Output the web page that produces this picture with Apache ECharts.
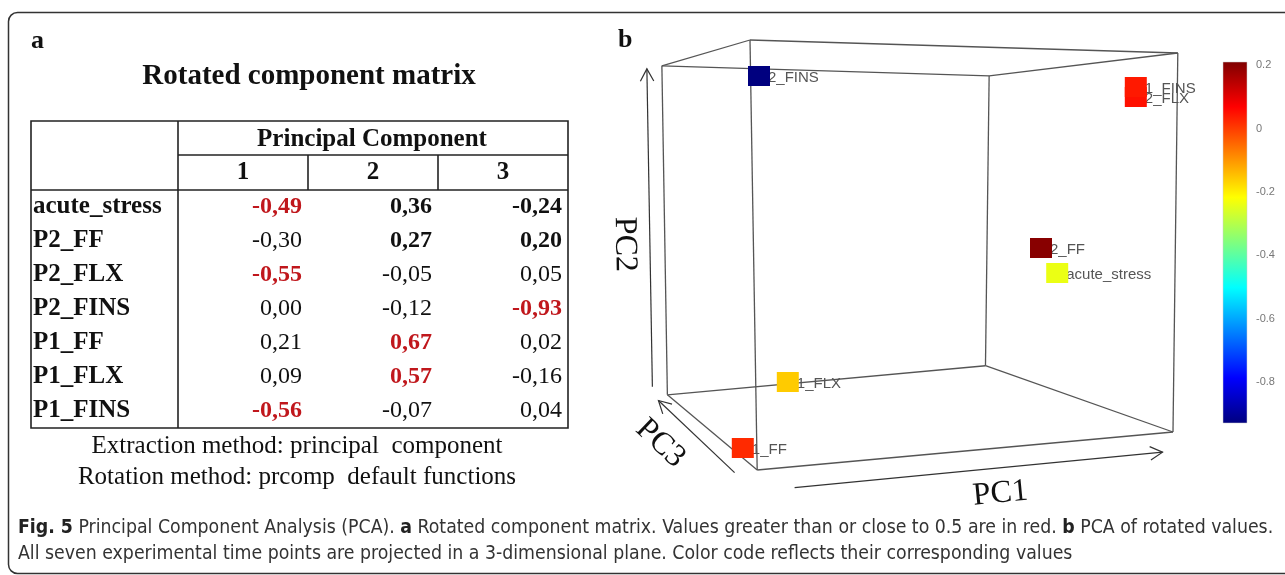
<!DOCTYPE html>
<html>
<head>
<meta charset="utf-8">
<script src="https://cdn.jsdelivr.net/npm/echarts@6/dist/echarts.min.js"></script>
<style>
html,body{margin:0;padding:0;background:#fff;}
#c{width:1285px;height:575px;}
</style>
</head>
<body>
<div id="c"></div>
<script>
// ================= DATA =================
// Panel a: rotated component matrix
const rowNames = ['acute_stress', 'P2_FF', 'P2_FLX', 'P2_FINS', 'P1_FF', 'P1_FLX', 'P1_FINS'];
const componentLabels = ['1', '2', '3'];
const pc1 = [-0.49, -0.30, -0.55, 0.00, 0.21, 0.09, -0.56];
const pc2 = [0.36, 0.27, -0.05, -0.12, 0.67, 0.57, -0.07];
const pc3 = [-0.24, 0.20, 0.05, -0.93, 0.02, -0.16, 0.04];
const boldCells = [[0, 0], [0, 1], [0, 2], [1, 1], [1, 2]]; // [row, col] printed in bold (besides red ones)

// Panel b: 3-D scatter, positions read on the projected view plane (0-100 units), colour = PC3 value
const pointNames = ['acute_stress', '2_FF', '2_FLX', '2_FINS', '1_FF', '1_FLX', '1_FINS'];
const pointViewX = [76.2, 73.5, 89.3, 26.5, 23.8, 31.3, 89.3];
const pointViewY = [49.4, 54.4, 84.6, 88.8, 14.4, 27.6, 86.6];
const pointColorValue = pc3;

// Colour bar
const colorMin = -0.93, colorMax = 0.21;
const colorbarTicks = [-0.8, -0.6, -0.4, -0.2, 0, 0.2];
const jetColors = ['#00007F', '#0000FF', '#007FFF', '#00FFFF', '#7FFF7F', '#FFFF00', '#FF7F00', '#FF0000', '#7F0000'];

// ================= LAYOUT / STYLE =================
const SERIF = '"Liberation Serif", "Times New Roman", serif';
const SANS = '"Liberation Sans", Arial, sans-serif';
const NARROW = '"DejaVu Sans Condensed", "Liberation Sans Narrow", sans-serif';
const RED = '#c0171c';
const INK = '#111';

// perspective box in view units of the hidden cube grid
const view = {E: [26.2, 10], B: [25, 96], C: [96.3, 93.4], H: [95.5, 17.6], vp: [-37.5, 74], k: 0.765};
function proj(u, v, w) {
  const E = view.E, B = view.B, C = view.C, H = view.H;
  const nx = (1 - u) * (1 - v) * E[0] + u * (1 - v) * H[0] + u * v * C[0] + (1 - u) * v * B[0];
  const ny = (1 - u) * (1 - v) * E[1] + u * (1 - v) * H[1] + u * v * C[1] + (1 - u) * v * B[1];
  const s = 1 / (1 + w * (1 / view.k - 1));
  return [view.vp[0] + s * (nx - view.vp[0]), view.vp[1] + s * (ny - view.vp[1])];
}
// cube edges from corner enumeration
const cubeEdges = [];
for (let a = 0; a < 8; a++) {
  for (let b = a + 1; b < 8; b++) {
    const d = a ^ b;
    if (d === 1 || d === 2 || d === 4) {
      cubeEdges.push([a & 1, (a >> 1) & 1, (a >> 2) & 1, b & 1, (b >> 1) & 1, (b >> 2) & 1]);
    }
  }
}
const axisGuides = [
  {name: 'PC1', from: [0.09, 0, 0], to: [0.97, 0, 0], offFrom: [0, 21], offTo: [2, 19], label: [0.585, 0, 0], labelOff: [0, 46], reverse: false},
  {name: 'PC2', from: [0, 0, 1], to: [0, 1, 1], offFrom: [-15, -8], offTo: [-15, 3], label: [0, 0.5, 1], labelOff: [-40, 14], reverse: true},
  {name: 'PC3', from: [0, 0, 0.12], to: [0, 0, 0.97], offFrom: [-9, 14], offTo: [-11, 4], label: [0, 0, 0.5], labelOff: [-46, 16], reverse: true}
];

function fmt(v) {
  return (v < 0 ? '-' : '') + Math.abs(v).toFixed(2).replace('.', ',');
}

// table cell data
const tableData = [];
const cols = [pc1, pc2, pc3];
rowNames.forEach((r, ri) => {
  cols.forEach((arr, ci) => tableData.push([ci, ri, arr[ri]]));
});
function isBold(ri, ci, v) {
  return Math.abs(v) >= 0.45 || boldCells.some(c => c[0] === ri && c[1] === ci);
}

// caption font fit
const cap1 = 'Fig. 5 Principal Component Analysis (PCA). a Rotated component matrix. Values greater than or close to 0.5 are in red. b PCA of rotated values.';
const cap2 = 'All seven experimental time points are projected in a 3-dimensional plane. Color code reflects their corresponding values';
let capSize = 19;
try {
  const ctx = document.createElement('canvas').getContext('2d');
  ctx.font = '20px ' + NARROW;
  const w = ctx.measureText(cap1).width;
  capSize = 20 * 1245 / w;
} catch (e) {}

const chart = echarts.init(document.getElementById('c'));

const option = {
  backgroundColor: '#fff',
  animation: false,
  grid: [
    {left: 178, top: 190, width: 390, height: 238},
    {left: 600, top: 20, width: 600, height: 500},
    {left: 1223, top: 62, width: 24, height: 361}
  ],
  xAxis: [
    {gridIndex: 0, type: 'category', data: componentLabels, position: 'top',
      axisLine: {show: false}, axisTick: {show: false}, splitLine: {show: false},
      axisLabel: {interval: 0, margin: 5, fontFamily: SERIF, fontWeight: 'bold', fontSize: 25, color: INK}},
    {gridIndex: 1, type: 'value', min: 0, max: 100, show: false},
    {gridIndex: 2, type: 'value', min: 0, max: 1, show: false}
  ],
  yAxis: [
    {gridIndex: 0, type: 'category', data: rowNames, inverse: true,
      axisLine: {show: false}, axisTick: {show: false}, splitLine: {show: false},
      axisLabel: {interval: 0, align: 'left', margin: 145, fontFamily: SERIF, fontWeight: 'bold', fontSize: 25, color: INK}},
    {gridIndex: 1, type: 'value', min: 0, max: 100, show: false},
    {gridIndex: 2, type: 'value', min: colorMin, max: colorMax, position: 'right',
      axisLine: {show: false}, splitLine: {show: false},
      axisTick: {show: true, length: 6, customValues: colorbarTicks, lineStyle: {color: '#888', width: 1}},
      axisLabel: {show: true, customValues: colorbarTicks, margin: 9, color: '#777', fontSize: 11, fontFamily: SANS,
        formatter: v => (Math.abs(v) < 1e-9 ? '0' : Number(v).toFixed(1))}}
  ],
  visualMap: {
    show: false, type: 'continuous', seriesIndex: 3, dimension: 2,
    min: colorMin, max: colorMax, inRange: {color: jetColors}
  },
  series: [
    // 0: table values
    {
      type: 'custom', xAxisIndex: 0, yAxisIndex: 0, data: tableData, silent: true,
      renderItem: function (params, api) {
        const ci = api.value(0), ri = api.value(1), v = api.value(2);
        const p = api.coord([ci, ri]);
        const sz = api.size([1, 1]);
        const red = Math.abs(v) >= 0.45;
        return {
          type: 'text',
          style: {
            text: fmt(v), x: p[0] + sz[0] / 2 - 6, y: p[1], align: 'right', verticalAlign: 'middle',
            font: (isBold(ri, ci, v) ? 'bold ' : '') + '24px ' + SERIF,
            fill: red ? RED : INK
          }
        };
      }
    },
    // 1: cube wireframe
    {
      type: 'custom', xAxisIndex: 1, yAxisIndex: 1, data: cubeEdges, silent: true,
      renderItem: function (params, api) {
        const a = proj(api.value(0), api.value(1), api.value(2));
        const b = proj(api.value(3), api.value(4), api.value(5));
        const pa = api.coord(a), pb = api.coord(b);
        return {type: 'line', shape: {x1: pa[0], y1: pa[1], x2: pb[0], y2: pb[1]},
          style: {stroke: '#555', lineWidth: 1.3}};
      }
    },
    // 2: axis arrows and titles
    {
      type: 'custom', xAxisIndex: 1, yAxisIndex: 1, data: axisGuides.map((g, i) => [i]), silent: true,
      renderItem: function (params, api) {
        const g = axisGuides[api.value(0)];
        const s = api.coord(proj.apply(null, g.from));
        const e = api.coord(proj.apply(null, g.to));
        const x1 = s[0] + g.offFrom[0], y1 = s[1] + g.offFrom[1];
        const x2 = e[0] + g.offTo[0], y2 = e[1] + g.offTo[1];
        const ang = Math.atan2(y2 - y1, x2 - x1);
        const L = 14, th = 0.5;
        const h1 = [x2 - L * Math.cos(ang - th), y2 - L * Math.sin(ang - th)];
        const h2 = [x2 - L * Math.cos(ang + th), y2 - L * Math.sin(ang + th)];
        const lp = api.coord(proj.apply(null, g.label));
        const textAng = g.reverse ? ang + Math.PI : ang;
        const st = {stroke: '#333', lineWidth: 1.2};
        return {
          type: 'group',
          children: [
            {type: 'line', shape: {x1: x1, y1: y1, x2: x2, y2: y2}, style: st},
            {type: 'polyline', shape: {points: [h1, [x2, y2], h2]}, style: Object.assign({fill: null}, st)},
            {type: 'text', x: lp[0] + g.labelOff[0], y: lp[1] + g.labelOff[1], rotation: -textAng,
              style: {text: g.name, align: 'center', verticalAlign: 'middle', font: '32px ' + SERIF, fill: INK}}
          ]
        };
      }
    },
    // 3: points
    {
      type: 'custom', xAxisIndex: 1, yAxisIndex: 1, silent: true,
      data: pointNames.map((n, i) => [pointViewX[i], pointViewY[i], pointColorValue[i]]),
      renderItem: function (params, api) {
        const p = api.coord([api.value(0), api.value(1)]);
        const color = api.visual('color');
        return {
          type: 'group',
          children: [
            {type: 'text', style: {text: pointNames[params.dataIndex], x: p[0] + 9, y: p[1] + 2,
              verticalAlign: 'middle', font: '15px ' + SANS, fill: '#555'}},
            {type: 'rect', shape: {x: p[0] - 11, y: p[1] - 10, width: 22, height: 20}, style: {fill: color}}
          ]
        };
      }
    },
    // 4: colour bar
    {
      type: 'custom', xAxisIndex: 2, yAxisIndex: 2, data: [[0.5, colorMax]], silent: true,
      renderItem: function (params, api) {
        const top = api.coord([0, colorMax]);
        const bot = api.coord([0, colorMin]);
        const cs = params.coordSys;
        const stops = jetColors.slice().reverse().map((c, i, arr) => ({offset: i / (arr.length - 1), color: c}));
        return {type: 'rect', shape: {x: cs.x, y: top[1], width: cs.width, height: bot[1] - top[1]},
          style: {fill: new echarts.graphic.LinearGradient(0, 0, 0, 1, stops), stroke: '#ccc', lineWidth: 0.5}};
      }
    }
  ],
  graphic: [
    // outer frame
    {type: 'rect', shape: {x: 8.5, y: 12.5, width: 1300, height: 561, r: 9}, style: {fill: null, stroke: '#333', lineWidth: 1.5}, silent: true},
    // panel letters
    {type: 'text', style: {text: 'a', x: 31, y: 41, verticalAlign: 'middle', font: 'bold 26px ' + SERIF, fill: INK}},
    {type: 'text', style: {text: 'b', x: 618, y: 40, verticalAlign: 'middle', font: 'bold 26px ' + SERIF, fill: INK}},
    // table title & headers
    {type: 'text', style: {text: 'Rotated component matrix', x: 309, y: 77, align: 'center', verticalAlign: 'middle', font: 'bold 29px ' + SERIF, fill: INK}},
    {type: 'text', style: {text: 'Principal Component', x: 372, y: 140, align: 'center', verticalAlign: 'middle', font: 'bold 25px ' + SERIF, fill: INK}},
    // table lines
    {type: 'rect', shape: {x: 31, y: 121, width: 537, height: 307}, style: {fill: null, stroke: '#222', lineWidth: 1.6}},
    {type: 'line', shape: {x1: 178, y1: 121, x2: 178, y2: 428}, style: {stroke: '#222', lineWidth: 1.6}},
    {type: 'line', shape: {x1: 178, y1: 155, x2: 568, y2: 155}, style: {stroke: '#222', lineWidth: 1.6}},
    {type: 'line', shape: {x1: 31, y1: 190, x2: 568, y2: 190}, style: {stroke: '#222', lineWidth: 1.6}},
    {type: 'line', shape: {x1: 308, y1: 155, x2: 308, y2: 190}, style: {stroke: '#222', lineWidth: 1.6}},
    {type: 'line', shape: {x1: 438, y1: 155, x2: 438, y2: 190}, style: {stroke: '#222', lineWidth: 1.6}},
    // footnotes
    {type: 'text', style: {text: 'Extraction method: principal  component', x: 297, y: 446, align: 'center', verticalAlign: 'middle', font: '25px ' + SERIF, fill: INK}},
    {type: 'text', style: {text: 'Rotation method: prcomp  default functions', x: 297, y: 477, align: 'center', verticalAlign: 'middle', font: '25px ' + SERIF, fill: INK}},
    // caption
    {type: 'text', style: {
      text: '{b|Fig. 5} Principal Component Analysis (PCA). {b|a} Rotated component matrix. Values greater than or close to 0.5 are in red. {b|b} PCA of rotated values.',
      x: 18, y: 528, verticalAlign: 'middle', fontFamily: NARROW, fontSize: capSize, fill: '#333',
      rich: {b: {fontFamily: NARROW, fontSize: capSize, fontWeight: 'bold', fill: '#222'}}
    }},
    {type: 'text', style: {text: cap2, x: 18, y: 554, verticalAlign: 'middle', fontFamily: NARROW, fontSize: capSize, fill: '#333'}}
  ]
};
chart.setOption(option);
</script>
</body>
</html>
